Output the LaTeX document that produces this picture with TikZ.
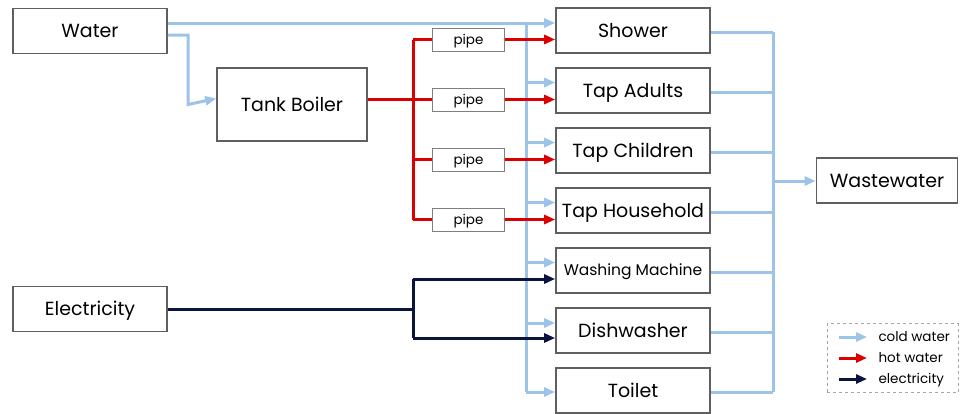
\documentclass[tikz,border=0pt]{standalone}
\usepackage{fontspec}
\setmainfont{Poppins}
\usetikzlibrary{arrows.meta}
\definecolor{coldc}{RGB}{157,195,233}
\definecolor{hotc}{RGB}{218,0,0}
\definecolor{elecc}{RGB}{10,20,62}
\definecolor{boxc}{RGB}{95,95,95}
\tikzset{
  box/.style={draw=boxc,line width=1.6pt,fill=white,minimum width=154pt,minimum height=45pt,inner sep=0pt,text height=13.3pt,text depth=0pt,font=\fontsize{19}{21}\selectfont},
  pipebox/.style={draw=boxc!80,line width=1pt,fill=white,minimum width=72pt,minimum height=23pt,inner sep=0pt,text height=9.5pt,text depth=0pt,font=\fontsize{13.5}{15}\selectfont},
  cold/.style={draw=coldc,line width=3pt,-{Triangle[length=11pt,width=9pt]}},
  coldline/.style={draw=coldc,line width=3pt},
  hot/.style={draw=hotc,line width=3pt,-{Triangle[length=11pt,width=9pt]}},
  hotline/.style={draw=hotc,line width=3pt},
  elec/.style={draw=elecc,line width=3pt,-{Triangle[length=11pt,width=9pt]}},
  elecline/.style={draw=elecc,line width=3pt},
  legtext/.style={anchor=west,inner sep=0pt,text height=9.5pt,text depth=0pt,font=\fontsize{13.5}{15}\selectfont}
}
\begin{document}
\begin{tikzpicture}[x=1pt,y=-1pt]
\useasboundingbox (0,0) rectangle (960,413);
% nodes
\node[box] (water) at (90,31) {Water};
\node[box,minimum width=150pt,minimum height=73pt] (tank) at (292,104.5) {Tank Boiler};
\node[box] (elec) at (90,309) {Electricity};
\node[box] (shower) at (633,30.5) {Shower};
\node[box] (tapa) at (633,90.5) {Tap Adults};
\node[box] (tapc) at (633,150.5) {Tap Children};
\node[box] (taph) at (633,210.5) {Tap Household};
\node[box,font=\fontsize{15.5}{17}\selectfont,text height=10.9pt] (wash) at (633,270.5) {Washing Machine};
\node[box] (dish) at (633,330.5) {Dishwasher};
\node[box] (toilet) at (633,390.5) {Toilet};
\node[box,minimum width=141pt] (waste) at (887,180.5) {Wastewater};
\node[pipebox] (p1) at (468.5,39.5) {pipe};
\node[pipebox] (p2) at (468.5,99.5) {pipe};
\node[pipebox] (p3) at (468.5,159.5) {pipe};
\node[pipebox] (p4) at (468.5,219.5) {pipe};
% junction coordinates
\coordinate (cb) at (188,35);
\coordinate (cv) at (526,23);
\coordinate (cvb) at (526,392);
\coordinate (rv) at (413,99.5);
\coordinate (ev) at (413,309);
\coordinate (wv) at (773,181);
% cold water
\draw[cold] ([yshift=8pt]water.east) -- ([yshift=7.5pt]shower.west);
\draw[cold] ([yshift=-4pt]water.east) -| (cb |- tank.west) -- ([yshift=6pt]tank.west);
\draw[coldline] (cv) -- (cvb);
\draw[cold] (cv |- 0,82.5) -- ([yshift=8pt]tapa.west);
\draw[cold] (cv |- 0,142.5) -- ([yshift=8pt]tapc.west);
\draw[cold] (cv |- 0,202.5) -- ([yshift=8pt]taph.west);
\draw[cold] (cv |- 0,262.5) -- ([yshift=8pt]wash.west);
\draw[cold] (cv |- 0,323) -- ([yshift=7.5pt]dish.west);
\draw[cold] (cvb) -- ([yshift=-1.5pt]toilet.west);
% wastewater collector
\draw[coldline] ([yshift=-1.5pt]shower.east) -- (wv |- 0,32);
\draw[coldline] ([yshift=-1.5pt]tapa.east) -- (wv |- 0,92);
\draw[coldline] ([yshift=-1.5pt]tapc.east) -- (wv |- 0,152);
\draw[coldline] ([yshift=-1.5pt]taph.east) -- (wv |- 0,212);
\draw[coldline] ([yshift=-1.5pt]wash.east) -- (wv |- 0,272);
\draw[coldline] ([yshift=-1.5pt]dish.east) -- (wv |- 0,332);
\draw[coldline] ([yshift=-1.5pt]toilet.east) -- (wv |- 0,392);
\draw[coldline] (wv |- 0,32) -- (wv |- 0,392);
\draw[cold] (wv) -- (wv -| waste.west);
% hot water
\draw[hotline] (tank.east |- p2.west) -- (p2.west);
\draw[hotline] (rv |- p1.west) -- (rv |- p4.west);
\draw[hotline] (rv |- p1.west) -- (p1.west);
\draw[hotline] (rv |- p3.west) -- (p3.west);
\draw[hotline] (rv |- p4.west) -- (p4.west);
\draw[hot] (p1.east) -- (p1.east -| shower.west);
\draw[hot] (p2.east) -- (p2.east -| tapa.west);
\draw[hot] (p3.east) -- (p3.east -| tapc.west);
\draw[hot] (p4.east) -- (p4.east -| taph.west);
% electricity
\draw[elecline] (elec.east) -- (ev);
\draw[elecline] (ev |- 0,279) -- (ev |- 0,338);
\draw[elec] (ev |- 0,279) -- ([yshift=-8.5pt]wash.west);
\draw[elec] (ev |- 0,338) -- ([yshift=-7.5pt]dish.west);
% legend
\node[draw=gray!70,dashed,line width=0.6pt,minimum width=131pt,minimum height=69pt,inner sep=0pt] (legend) at (892.5,358) {};
\coordinate (l1) at (839,337);
\coordinate (l2) at (839,358);
\coordinate (l3) at (839,379);
\draw[cold] (l1) -- ++(28,0) node[legtext,xshift=10pt] (t1) {cold water};
\draw[hot] (l2) -- ++(28,0) node[legtext,xshift=10pt] (t2) {hot water};
\draw[elec] (l3) -- ++(28,0) node[legtext,xshift=10pt] (t3) {electricity};
\end{tikzpicture}
\end{document}
